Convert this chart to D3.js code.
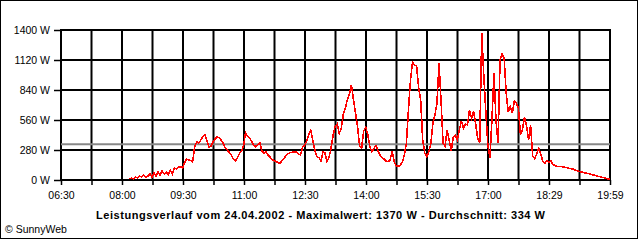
<!DOCTYPE html>
<html>
<head>
<meta charset="utf-8">
<script src="https://cdn.jsdelivr.net/npm/d3@7"></script>
<style>
  body { margin: 0; background: #fff; }
  svg { display: block; font-family: "Liberation Sans", Arial, sans-serif; }
</style>
</head>
<body>
<svg id="chart" width="640" height="240"></svg>
<script>
// Leistungsverlauf 24.04.2002 (values in W, one reading every 3 minutes from 08:11)
var startMinute = 491;
var stepMinutes = 3;
var watts = [
    9, 19, 9, 28, 19, 37, 28, 47, 28, 37,
    56, 28, 65, 37, 75, 47, 84, 56, 75, 47,
    93, 56, 112, 103, 121, 124, 112, 159, 196, 187,
    182, 171, 311, 357, 345, 373, 404, 420, 364, 308,
    317, 355, 383, 401, 397, 373, 341, 299, 280, 257,
    233, 196, 177, 210, 247, 271, 317, 443, 406, 392,
    359, 327, 311, 327, 345, 271, 252, 264, 233, 215,
    191, 182, 173, 163, 156, 182, 205, 229, 247, 255,
    259, 261, 264, 243, 233, 308, 322, 364, 425, 462,
    373, 280, 217, 210, 177, 261, 252, 171, 210, 299,
    420, 499, 523, 434, 481, 611, 672, 751, 803, 887,
    747, 625, 495, 317, 296, 457, 495, 425, 317, 264,
    294, 322, 275, 233, 210, 196, 177, 171, 187, 271,
    168, 131, 126, 140, 168, 233, 345, 653, 933, 1101,
    1073, 1064, 863, 747, 373, 252, 219, 261, 341, 529,
    607, 716, 1089, 747, 343, 317, 467, 373, 271, 401,
    415, 373, 467, 551, 485, 523, 513, 653, 579, 644,
    523, 392, 345, 1370, 980, 635, 327, 205, 560, 996,
    560, 343, 1120, 1176, 1139, 812, 635, 684, 625, 737,
    719, 672, 420, 467, 588, 504, 373, 513, 224, 201,
    243, 294, 238, 177, 156, 182, 163, 177, 145, 135,
    126, 124, 128, 121, 117, 115, 109, 105, 100, 93,
    86, 79, 75, 71, 65, 62, 56, 51, 47, 41,
    35, 31, 26, 21, 15, 9, 7
];

var yTicks = [0, 280, 560, 840, 1120, 1400];
var timeLabels = ["06:30", "08:00", "09:30", "11:00", "12:30", "14:00", "15:30", "17:00", "18:29", "19:59"];
var averageW = 334;
var maxW = 1370;
var title = "Leistungsverlauf vom 24.04.2002 - Maximalwert: " + maxW + " W - Durchschnitt: " + averageW + " W";

var svg = d3.select("#chart");

// outer frame
svg.append("rect")
    .attr("x", 0.5).attr("y", 0.5)
    .attr("width", 637).attr("height", 238)
    .attr("fill", "none")
    .attr("stroke", "black");

const margin = { top: 30, right: 30, bottom: 60, left: 61 };
const Innerwidth = 640 - margin.left - margin.right;   // 549
const Innerheight = 240 - margin.top - margin.bottom;  // 150

var xScale = d3.scaleLinear()
    .domain([390, 1199])
    .range([margin.left, margin.left + Innerwidth]);

var yScale = d3.scaleLinear()
    .domain([0, 1400])
    .range([margin.top + Innerheight, margin.top]);

// one grid line every 45 min, label on every second one
var gridTimes = d3.range(19).map(k => 390 + k * (1199 - 390) / 18);

// grid
svg.append("g")
    .selectAll("line.hgrid")
    .data(yTicks)
    .enter()
    .append("line")
    .attr("x1", margin.left).attr("x2", margin.left + Innerwidth)
    .attr("y1", d => yScale(d)).attr("y2", d => yScale(d))
    .attr("stroke", "black")
    .attr("stroke-width", 2);

svg.append("g")
    .selectAll("line.vgrid")
    .data(gridTimes)
    .enter()
    .append("line")
    .attr("x1", d => xScale(d)).attr("x2", d => xScale(d))
    .attr("y1", margin.top - 1).attr("y2", margin.top + Innerheight + 1)
    .attr("stroke", "black")
    .attr("stroke-width", 2);

// average line
svg.append("line")
    .attr("x1", margin.left).attr("x2", margin.left + Innerwidth)
    .attr("y1", yScale(averageW)).attr("y2", yScale(averageW))
    .attr("stroke", "#888888")
    .attr("stroke-width", 2);

// axes
var yAxis = svg.append("g")
    .attr("transform", `translate(${margin.left},0)`)
    .call(d3.axisLeft(yScale)
        .tickValues(yTicks)
        .tickSize(7)
        .tickPadding(4)
        .tickFormat(d => d + " W"));

var xAxis = svg.append("g")
    .attr("transform", `translate(0,${margin.top + Innerheight})`)
    .call(d3.axisBottom(xScale)
        .tickValues(gridTimes)
        .tickSize(5)
        .tickPadding(7)
        .tickFormat((d, i) => i % 2 === 0 ? timeLabels[i / 2] : ""));

[yAxis, xAxis].forEach(function (a) {
    a.select(".domain").remove();
    a.selectAll("line").attr("stroke", "black").attr("stroke-width", 1.5);
    a.selectAll("text")
        .attr("fill", "black")
        .style("font-family", "'Liberation Sans', Arial, sans-serif")
        .style("font-size", "10.5px");
});

// power curve
var line = d3.line()
    .x((d, i) => xScale(startMinute + i * stepMinutes))
    .y(d => yScale(d));

svg.append("path")
    .datum(watts)
    .attr("fill", "none")
    .attr("stroke", "#ff0000")
    .attr("stroke-width", 1.6)
    .attr("stroke-linejoin", "miter")
    .attr("shape-rendering", "crispEdges")
    .attr("d", line);

// title
svg.append("text")
    .attr("x", 320.5)
    .attr("y", 219)
    .style("text-anchor", "middle")
    .style("font-size", "11px")
    .style("font-weight", "bold")
    .attr("textLength", 449)
    .text(title);

svg.append("text")
    .attr("x", 5)
    .attr("y", 233)
    .style("font-size", "10.5px")
    .text("\u00a9 SunnyWeb");
</script>
</body>
</html>
